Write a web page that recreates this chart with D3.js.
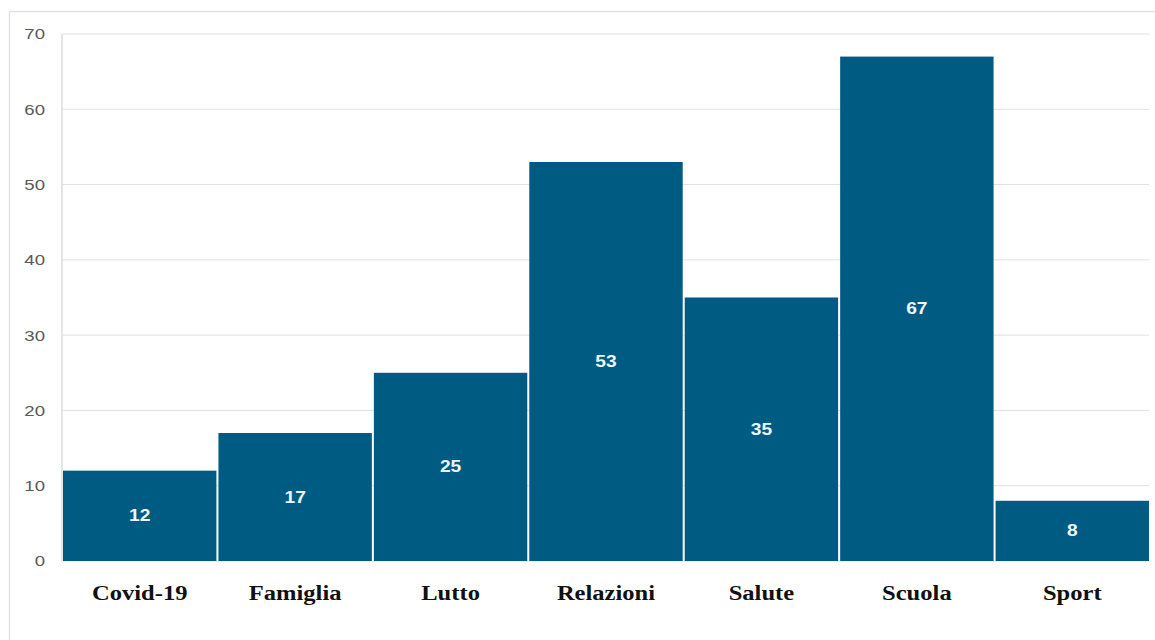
<!DOCTYPE html>
<html>
<head>
<meta charset="utf-8">
<script src="https://cdn.jsdelivr.net/npm/d3@7"></script>
<style>
  body { margin: 0; background: #fff; }
  svg { display: block; }
</style>
</head>
<body>
<svg id="chart" width="1155" height="640"></svg>
<script>
// chart data
const categories = ["Covid-19", "Famiglia", "Lutto", "Relazioni", "Salute", "Scuola", "Sport"];
const counts = [12, 17, 25, 53, 35, 67, 8];
const yTicks = [0, 10, 20, 30, 40, 50, 60, 70];

const width = 1155;
const height = 640;
const margin = { top: 34, right: 6, bottom: 79, left: 63 };
// the source picture looks stretched sideways a bit
const stretch = 1.2;

const svg = d3.select("#chart");

// outer frame (only left and top edges visible)
svg.append("path")
    .attr("d", `M9.5,640 V11.5 H1155`)
    .attr("fill", "none")
    .attr("stroke", "#e2e2e2")
    .attr("stroke-width", 1.5);

const x = d3.scaleBand()
    .domain(categories)
    .range([margin.left, width - margin.right])
    .paddingInner(0.013)
    .paddingOuter(0);

const y = d3.scaleLinear()
    .domain([0, 70])
    .range([height - margin.bottom, margin.top]);

// gridlines
svg.append("g")
    .selectAll("line")
    .data(yTicks)
    .join("line")
    .attr("x1", margin.left)
    .attr("x2", width - margin.right)
    .attr("y1", (d) => y(d))
    .attr("y2", (d) => y(d))
    .attr("stroke", "#e0e0e0");

// y labels
svg.append("g")
    .selectAll("text")
    .data(yTicks)
    .join("text")
    .attr("transform", (d) => `translate(45,${y(d)}) scale(${stretch},1)`)
    .attr("dy", "0.35em")
    .attr("text-anchor", "end")
    .attr("fill", "#595959")
    .style("font-family", "Liberation Sans, Arial, sans-serif")
    .style("font-size", "15.5px")
    .text((d) => d);

// left axis line
svg.append("line")
    .attr("x1", margin.left - 1).attr("x2", margin.left - 1)
    .attr("y1", margin.top).attr("y2", y(0))
    .attr("stroke", "#dcdcdc")
    .attr("stroke-width", 1.5);

// bars
const bars = svg.append("g")
    .selectAll("g")
    .data(categories.map((c, i) => ({ cat: c, val: counts[i] })))
    .join("g");

bars.append("rect")
    .attr("x", (d) => x(d.cat))
    .attr("y", (d) => y(d.val))
    .attr("width", x.bandwidth())
    .attr("height", (d) => y(0) - y(d.val))
    .attr("fill", "#005b82");

bars.append("text")
    .attr("transform", (d) =>
        `translate(${x(d.cat) + x.bandwidth() / 2},${(y(d.val) + y(0)) / 2}) scale(${stretch},1)`)
    .attr("dy", "0.35em")
    .attr("text-anchor", "middle")
    .attr("fill", "#eef6fa")
    .style("font-family", "Liberation Sans, Arial, sans-serif")
    .style("font-weight", "bold")
    .style("font-size", "16px")
    .text((d) => d.val);

// category labels
svg.append("g")
    .selectAll("text")
    .data(categories)
    .join("text")
    .attr("transform", (d) => `translate(${x(d) + x.bandwidth() / 2},600) scale(1.17,1)`)
    .attr("text-anchor", "middle")
    .attr("fill", "#111")
    .style("font-family", "Liberation Serif, Times New Roman, serif")
    .style("font-weight", "bold")
    .style("font-size", "21px")
    .text((d) => d);
</script>
</body>
</html>
